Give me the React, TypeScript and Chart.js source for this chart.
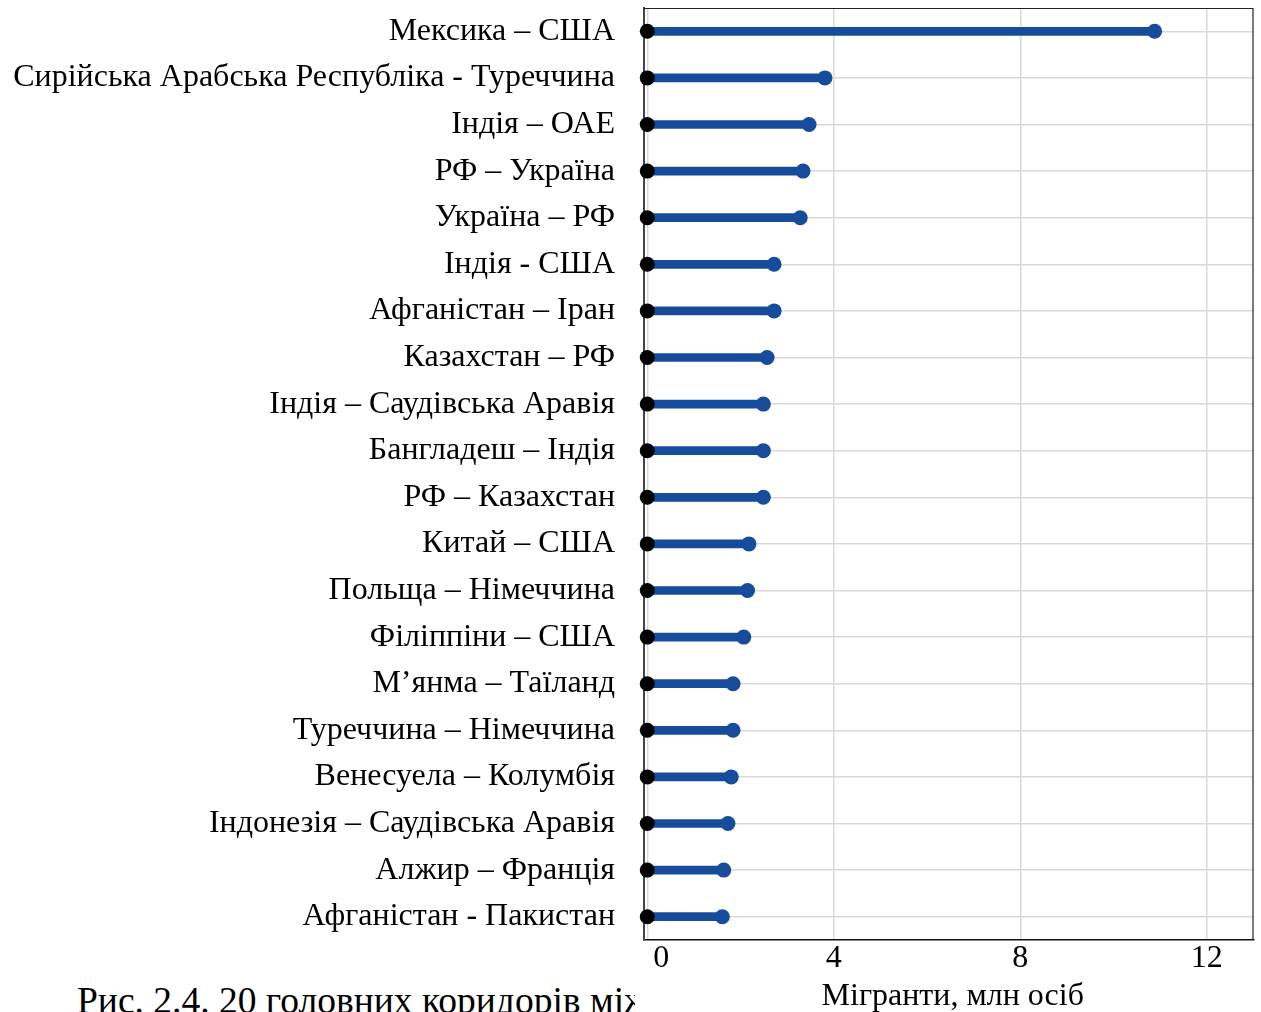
import React, { useEffect, useRef } from "react";
import { Chart, registerables } from "chart.js";

Chart.register(...registerables);

// ---- data ----
const corridors: string[] = [
  "Мексика – США",
  "Сирійська Арабська Республіка - Туреччина",
  "Індія – ОАЕ",
  "РФ – Україна",
  "Україна – РФ",
  "Індія - США",
  "Афганістан – Іран",
  "Казахстан – РФ",
  "Індія – Саудівська Аравія",
  "Бангладеш – Індія",
  "РФ – Казахстан",
  "Китай – США",
  "Польща – Німеччина",
  "Філіппіни – США",
  "М’янма – Таїланд",
  "Туреччина – Німеччина",
  "Венесуела – Колумбія",
  "Індонезія – Саудівська Аравія",
  "Алжир – Франція",
  "Афганістан - Пакистан",
];

const migrants: number[] = [
  10.88, 3.81, 3.47, 3.34, 3.28, 2.72, 2.72, 2.57, 2.49, 2.49,
  2.49, 2.18, 2.15, 2.07, 1.84, 1.84, 1.8, 1.73, 1.64, 1.61,
];

const startValue = 0;
const xTicks: number[] = [0, 4, 8, 12];
const xMin = -0.07;
const xMax = 13.0;
const xAxisTitle = "Мігранти, млн осіб";
const caption = "Рис. 2.4. 20 головних коридорів міжнародної міграції";

const BLUE = "#164c9b";
const GRID = "#d9d9d9";
const FONT = "'Liberation Serif', 'Times New Roman', serif";

const overlayPlugin = {
  id: "overlay",
  afterDraw(chart: any) {
    const { ctx, chartArea } = chart;
    const xs = chart.scales.x;
    ctx.save();
    // frame (top & right)
    ctx.strokeStyle = "#222";
    ctx.lineWidth = 1.2;
    ctx.beginPath();
    ctx.moveTo(chartArea.left, chartArea.top + 0.5);
    ctx.lineTo(chartArea.right - 0.5, chartArea.top + 0.5);
    ctx.lineTo(chartArea.right - 0.5, chartArea.bottom);
    ctx.stroke();
    // x tick labels
    ctx.fillStyle = "#000";
    ctx.font = `32px ${FONT}`;
    ctx.textAlign = "center";
    ctx.textBaseline = "middle";
    xTicks.forEach((v) => {
      let px = xs.getPixelForValue(v);
      if (v === 0) px += 14;
      ctx.fillText(String(v), px, chartArea.bottom + 19);
    });
    // x axis title
    ctx.font = `32px ${FONT}`;
    ctx.fillText(xAxisTitle, (chartArea.left + chartArea.right) / 2 + 4, chartArea.bottom + 57);
    ctx.restore();
  },
};

export default function App() {
  const ref = useRef<HTMLCanvasElement | null>(null);

  useEffect(() => {
    if (!ref.current) return;
    const chart = new Chart(ref.current, {
      type: "bar",
      data: {
        labels: corridors,
        datasets: [
          {
            type: "bar",
            data: migrants,
            backgroundColor: BLUE,
            barThickness: 8,
            base: startValue,
            order: 3,
            clip: false,
          } as any,
          {
            type: "line",
            indexAxis: "y",
            data: corridors.map((c, i) => ({ x: migrants[i], y: c })),
            showLine: false,
            pointRadius: 7.5,
            pointBackgroundColor: BLUE,
            pointBorderWidth: 0,
            order: 2,
            clip: false,
          } as any,
          {
            type: "line",
            indexAxis: "y",
            data: corridors.map((c) => ({ x: startValue, y: c })),
            showLine: false,
            pointRadius: 7.5,
            pointBackgroundColor: "#000",
            pointBorderWidth: 0,
            order: 1,
            clip: false,
          } as any,
        ],
      },
      options: {
        indexAxis: "y",
        animation: false,
        responsive: false,
        maintainAspectRatio: false,
        layout: { padding: { top: 8, right: 6, left: 0, bottom: 0 } },
        plugins: {
          legend: { display: false },
          tooltip: { enabled: false },
        },
        scales: {
          x: {
            type: "linear",
            min: xMin,
            max: xMax,
            afterBuildTicks: (s: any) => {
              s.ticks = xTicks.map((v) => ({ value: v }));
            },
            grid: { color: GRID, lineWidth: 1.5, drawTicks: false },
            border: { display: true, color: "#111", width: 1.5 },
            ticks: { display: false },
            afterFit: (s: any) => {
              s.height = 72;
              s.paddingLeft = 0;
              s.paddingRight = 0;
              s.paddingTop = 0;
              s.paddingBottom = 0;
            },
          },
          y: {
            type: "category",
            offset: true,
            grid: { offset: false, color: GRID, lineWidth: 1.5, drawTicks: false },
            border: { display: true, color: "#444", width: 2 },
            ticks: {
              autoSkip: false,
              color: "#000",
              padding: 29,
              font: { family: FONT, size: 32 },
            },
            afterFit: (s: any) => {
              s.width = 644;
              s.paddingTop = 0;
              s.paddingBottom = 0;
              s.paddingLeft = 0;
              s.paddingRight = 0;
            },
          },
        },
      } as any,
      plugins: [overlayPlugin],
    });
    return () => chart.destroy();
  }, []);

  return (
    <div style={{ position: "fixed", left: 0, top: 0, width: 1261, height: 1012, overflow: "hidden", background: "#fff" }}>
      <div
        style={{
          position: "absolute",
          left: 77,
          top: 982,
          width: 558,
          overflow: "hidden",
          whiteSpace: "nowrap",
          fontFamily: FONT,
          fontSize: 37.5,
          lineHeight: "38px",
          color: "#000",
        }}
      >
        {caption}
      </div>
      <canvas ref={ref} width={1261} height={1012} style={{ position: "absolute", left: 0, top: 0, width: 1261, height: 1012 }} />
    </div>
  );
}
